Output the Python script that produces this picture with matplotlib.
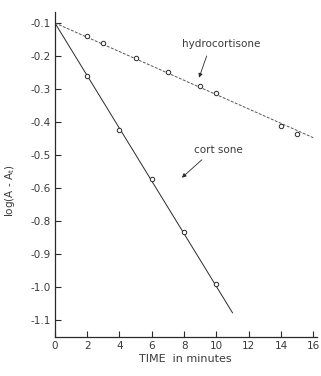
"""Reaction kinetics: log(A - At) versus time for cortisone and hydrocortisone."""

import matplotlib
matplotlib.use("Agg")
import matplotlib.pyplot as plt

HYDRO_T = [2, 3, 5, 7, 9, 10, 14, 15]
HYDRO_Y = [-0.139, -0.161, -0.206, -0.248, -0.291, -0.312, -0.412, -0.436]
CORT_T = [2, 4, 6, 8, 10]
CORT_Y = [-0.261, -0.424, -0.573, -0.733, -0.891]

# Fitted straight lines (start and end)
HYDRO_FIT_T = [0, 16]
HYDRO_FIT_Y = [-0.1, -0.448]
CORT_FIT_T = [0, 11]
CORT_FIT_Y = [-0.1, -0.979]

XTICKS = [0, 2, 4, 6, 8, 10, 12, 14, 16]
YTICKS = [-0.1, -0.2, -0.3, -0.4, -0.5, -0.6, -0.7, -0.8, -0.9, -1.0]
# labels as printed on the original (no -0.7)
YTICK_LABELS = ["-0.1", "-0.2", "-0.3", "-0.4", "-0.5", "-0.6",
                "-0.8", "-0.9", "-1.0", "-1.1"]

INK = "#2a2a2a"
TXT = "#3a3a3a"


def main():
    plt.rcParams.update({"font.family": "DejaVu Sans", "font.size": 7.5})
    fig = plt.figure(figsize=(3.21, 3.76), dpi=100)
    ax = fig.add_axes([0.171, 0.104, 0.815, 0.864])

    ax.plot(HYDRO_FIT_T, HYDRO_FIT_Y, color="#555555", lw=0.7,
            linestyle=(0, (3, 1.5)))
    ax.plot(CORT_FIT_T, CORT_FIT_Y, color=INK, lw=0.7)
    ax.plot(HYDRO_T, HYDRO_Y, "o", ms=3.2, mfc="white", mec=INK, mew=0.7)
    ax.plot(CORT_T, CORT_Y, "o", ms=3.2, mfc="white", mec=INK, mew=0.7)

    ax.set_xlim(0, 16.2)
    ax.set_ylim(-1.052, -0.067)
    ax.set_xticks(XTICKS)
    ax.set_yticks(YTICKS, YTICK_LABELS)
    ax.tick_params(direction="in", length=4.5, width=0.8, color=INK,
                   labelcolor=TXT, labelsize=7.5, pad=3)
    for side in ("top", "right"):
        ax.spines[side].set_visible(False)
    for side in ("left", "bottom"):
        ax.spines[side].set_color(INK)
        ax.spines[side].set_linewidth(0.9)

    ax.set_xlabel("TIME  in minutes", color=TXT, fontsize=8, labelpad=2)
    ax.set_ylabel(r"log(A - A$_{\mathrm{t}}$)", color=TXT, fontsize=7.5)
    ax.yaxis.set_label_coords(-0.145, 0.45)

    arrow = dict(arrowstyle="-|>", color=INK, lw=0.6, mutation_scale=6,
                 shrinkA=0, shrinkB=1)
    ax.text(7.9, -0.165, "hydrocortisone", color=TXT, fontsize=7.5,
            va="center")
    ax.annotate("", xy=(8.9, -0.27), xytext=(9.4, -0.2), arrowprops=arrow)
    ax.text(8.6, -0.485, "cort sone", color=TXT, fontsize=7.5, va="center")
    ax.annotate("", xy=(7.8, -0.572), xytext=(9.1, -0.515), arrowprops=arrow)

    fig.savefig("out.png", dpi=100, facecolor="white")
    plt.close(fig)


if __name__ == "__main__":
    main()
